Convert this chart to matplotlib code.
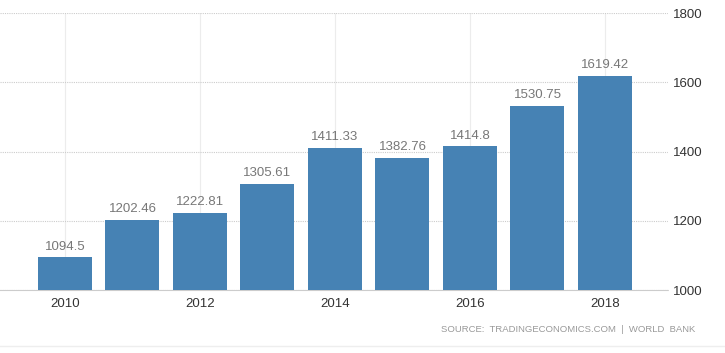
import matplotlib.pyplot as plt

years = [2010, 2011, 2012, 2013, 2014, 2015, 2016, 2017, 2018]
values = [1094.5, 1202.46, 1222.81, 1305.61, 1411.33, 1382.76, 1414.8, 1530.75, 1619.42]
value_labels = ["1094.5", "1202.46", "1222.81", "1305.61", "1411.33", "1382.76", "1414.8", "1530.75", "1619.42"]
x_ticks = [2010, 2012, 2014, 2016, 2018]
y_ticks = [1000, 1200, 1400, 1600, 1800]

plt.rcParams['font.family'] = ['Liberation Sans', 'DejaVu Sans']

fig = plt.figure(figsize=(7.25, 3.53), dpi=100)
ax = fig.add_axes([0, 0.178, 0.921, 0.785])

ax.bar(years, [v - 1000 for v in values], bottom=1000, width=0.8,
       color="#4682b4", zorder=3)
for x, v, lab in zip(years, values, value_labels):
    ax.text(x, v + 14, lab, ha="center", va="bottom", fontsize=9.5, color="#777777", zorder=4)

ax.set_xlim(2010 - 0.963, 2018 + 0.93)
ax.set_ylim(1000, 1800)
ax.set_xticks(x_ticks)
ax.set_xticklabels([str(y) for y in x_ticks])
ax.set_yticks(y_ticks)
ax.yaxis.tick_right()
ax.tick_params(axis="y", length=0, pad=4, labelsize=9.5, labelcolor="#333333")
ax.tick_params(axis="x", length=0, pad=6, labelsize=9.5, labelcolor="#333333")

ax.grid(axis="y", color="#cccccc", linestyle=(0, (1, 1)), linewidth=0.8, zorder=0)
ax.grid(axis="x", color="#ececec", linestyle="-", linewidth=0.8, zorder=0)
for s in ["top", "left", "right"]:
    ax.spines[s].set_visible(False)
ax.spines["bottom"].set_color("#cccccc")
ax.spines["bottom"].set_linestyle((0, (1, 1)))

fig.text(695 / 725, 1 - 330 / 353, "SOURCE:  TRADINGECONOMICS.COM  |  WORLD  BANK",
         ha="right", va="center", fontsize=6.8, color="#999999")
fig.add_artist(plt.Line2D([0, 1], [1 - 346 / 353] * 2, color="#eeeeee", linewidth=1))

fig.savefig("out.png", dpi=100)
